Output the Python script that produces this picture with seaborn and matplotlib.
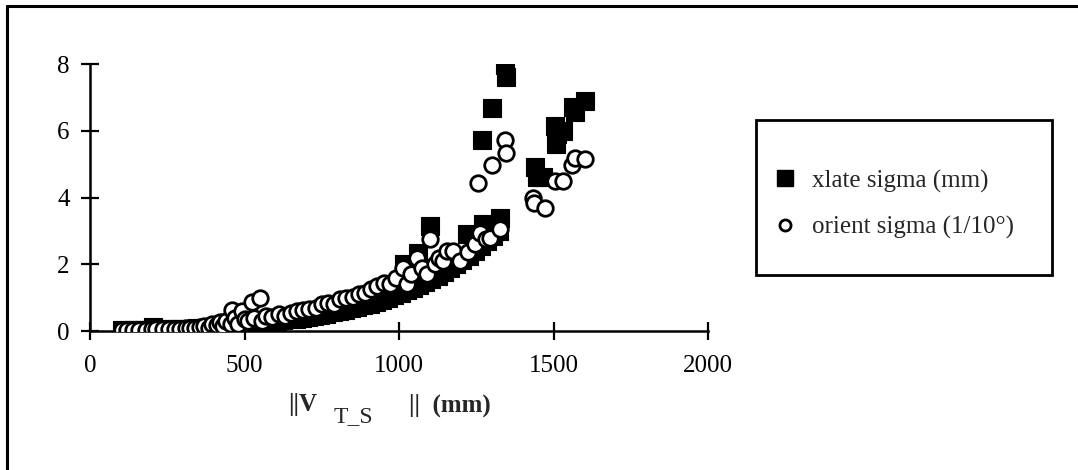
import matplotlib

matplotlib.use("Agg")

import matplotlib.pyplot as plt
import seaborn as sns
from matplotlib.lines import Line2D

# xlate sigma (mm), filled squares
xlate_x = [105, 125, 145, 165, 185, 205, 225, 245, 265, 285, 305, 325, 345, 365,
           385, 405, 425, 445, 465, 485, 505, 525, 545, 565, 585, 605, 625, 645,
           665, 685, 705, 725, 745, 765, 785, 805, 825, 845, 865, 885, 905, 925,
           945, 965, 985, 1005, 1015, 1025, 1045, 1060, 1065, 1085, 1100, 1105,
           1125, 1145, 1165, 1185, 1205, 1220, 1225, 1245, 1265, 1270, 1272, 1285,
           1300, 1305, 1325, 1327, 1343, 1345, 1440, 1445, 1466, 1505, 1508, 1510,
           1531, 1563, 1570, 1602]
xlate_sigma = [0.02, 0.02, 0.03, 0.03, 0.04, 0.12, 0.04, 0.05, 0.05, 0.06, 0.07,
               0.07, 0.08, 0.09, 0.10, 0.12, 0.13, 0.15, 0.16, 0.18, 0.20, 0.22,
               0.24, 0.26, 0.28, 0.30, 0.32, 0.35, 0.37, 0.40, 0.42, 0.45, 0.48,
               0.52, 0.56, 0.60, 0.64, 0.68, 0.72, 0.77, 0.82, 0.88, 0.94, 1.00,
               1.07, 1.14, 2.00, 1.22, 1.30, 2.35, 1.38, 1.47, 3.15, 1.56, 1.66,
               1.76, 1.88, 2.00, 2.12, 2.90, 2.25, 2.40, 2.55, 5.72, 3.20, 2.70,
               6.68, 2.85, 3.00, 3.40, 7.96, 7.60, 4.90, 4.60, 4.60, 6.15, 5.60,
               5.90, 6.00, 6.70, 6.55, 6.90]

# orient sigma (1/10 deg), open circles
orient_x = [105, 120, 140, 160, 180, 200, 215, 235, 255, 275, 290, 310, 325, 340,
            355, 370, 385, 395, 410, 420, 430, 440, 455, 460, 470, 480, 492, 500,
            510, 523, 530, 550, 555, 570, 590, 610, 630, 650, 670, 690, 710, 730,
            750, 770, 790, 810, 830, 850, 870, 890, 910, 930, 950, 970, 990, 1013,
            1026, 1040, 1058, 1075, 1090, 1100, 1115, 1130, 1142, 1155, 1175, 1197,
            1223, 1245, 1256, 1262, 1280, 1294, 1300, 1327, 1343, 1345, 1434, 1436,
            1472, 1505, 1531, 1560, 1570, 1602]
orient_sigma = [0.03, 0.03, 0.03, 0.04, 0.04, 0.05, 0.05, 0.05, 0.06, 0.06, 0.07,
                0.08, 0.10, 0.08, 0.12, 0.15, 0.10, 0.20, 0.18, 0.28, 0.15, 0.30,
                0.22, 0.63, 0.40, 0.20, 0.60, 0.35, 0.30, 0.87, 0.40, 1.00, 0.30,
                0.45, 0.42, 0.50, 0.45, 0.55, 0.60, 0.62, 0.65, 0.70, 0.80, 0.85,
                0.80, 0.95, 1.00, 1.02, 1.10, 1.15, 1.25, 1.35, 1.45, 1.40, 1.60,
                1.90, 1.40, 1.70, 2.20, 1.90, 1.70, 2.75, 2.00, 2.20, 2.10, 2.40,
                2.40, 2.10, 2.37, 2.60, 4.43, 2.93, 2.75, 2.80, 4.97, 3.05, 5.72,
                5.33, 4.00, 3.83, 3.70, 4.50, 4.50, 4.97, 5.18, 5.15]

x_ticks = [0, 500, 1000, 1500, 2000]
y_ticks = [0, 2, 4, 6, 8]
labels = ["xlate sigma (mm)", "orient sigma (1/10\u00b0)"]

sns.set_theme(style="white")
plt.rcParams["font.family"] = ["Liberation Serif", "DejaVu Serif"]

fig = plt.figure(figsize=(10.78, 4.70), dpi=100)
ax = fig.add_axes([0.0835, 0.2957, 0.5733, 0.5681])

sns.scatterplot(x=xlate_x, y=xlate_sigma, marker="s", s=175, color="black",
                edgecolor="black", linewidth=0.8, ax=ax, zorder=3)
sns.scatterplot(x=orient_x, y=orient_sigma, marker="o", s=125, color="white",
                edgecolor="black", linewidth=2.0, ax=ax, zorder=4)

ax.set_xlim(0, 2000)
ax.set_ylim(0, 8)
ax.set_xticks(x_ticks)
ax.set_yticks(y_ticks)
ax.set_xticklabels([str(v) for v in x_ticks])
ax.set_yticklabels([str(v) for v in y_ticks])
for side in ["top", "right"]:
    ax.spines[side].set_visible(False)
for side in ["left", "bottom"]:
    ax.spines[side].set_linewidth(1.8)
    ax.spines[side].set_color("black")
ax.tick_params(axis="both", direction="inout", length=13, width=1.6,
               colors="black", labelsize=18, left=True, bottom=True)
ax.tick_params(axis="x", pad=11)
ax.tick_params(axis="y", pad=8)
ax.set_xlabel("")
ax.set_ylabel("")

# axis title pieces: ||V  T_S  ||  (mm)
fig.text(0.267, 0.125, "||V", fontsize=18, fontweight="bold", ha="left")
fig.text(0.309, 0.103, "T_S", fontsize=17, ha="left")
fig.text(0.379, 0.125, "||  (mm)", fontsize=18, fontweight="bold", ha="left")

# legend, drawn without its own frame; the box is added separately
handles = [
    Line2D([], [], marker="s", linestyle="none", markersize=11,
           markerfacecolor="black", markeredgecolor="black"),
    Line2D([], [], marker="o", linestyle="none", markersize=8,
           markerfacecolor="white", markeredgecolor="black", markeredgewidth=2),
]
fig.legend(handles, labels, loc="center left", bbox_to_anchor=(0.705, 0.565),
           frameon=False, fontsize=18, handlelength=1.0, handletextpad=0.6,
           labelspacing=0.95, borderpad=0)
fig.add_artist(plt.Rectangle((0.7013, 0.4149), 0.2746, 0.3298,
                             transform=fig.transFigure, fill=False,
                             edgecolor="black", linewidth=2))

# outer frame (left and top edges only)
fig.add_artist(Line2D([0.0065, 0.0065], [0.0, 0.987], transform=fig.transFigure,
                      color="black", linewidth=2.2))
fig.add_artist(Line2D([0.0065, 1.0], [0.987, 0.987], transform=fig.transFigure,
                      color="black", linewidth=2.2))

fig.savefig("out.png", dpi=100)
